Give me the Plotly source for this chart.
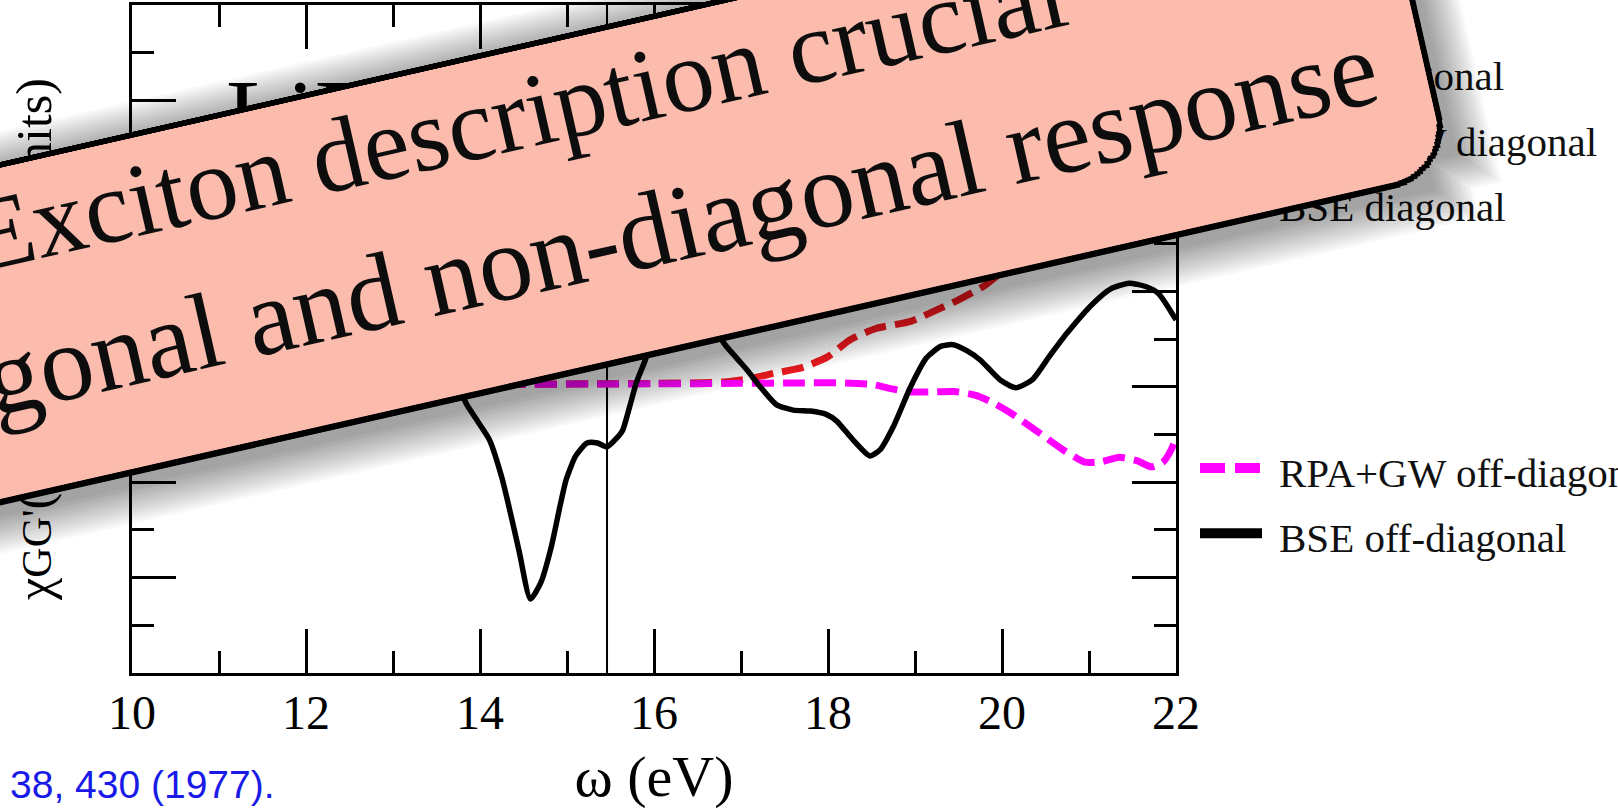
import math
import plotly.graph_objects as go

# ---------------- data ----------------
# RPA diagonal
omega_rpa_diag = [10.0, 11.0, 12.0, 13.0, 13.5, 14.0, 14.5, 15.0, 15.5, 16.0, 17.0, 18.0, 19.0, 20.0, 21.0, 22.0]
chi_rpa_diag = [6.04, 6.05, 6.08, 6.20, 6.35, 6.70, 7.30, 7.90, 8.60, 9.20, 10.10, 10.60, 10.90, 11.20, 11.50, 11.80]

# RPA+GW diagonal
omega_rpagw_diag = [10.0, 12.0, 14.0, 16.0, 16.8, 17.1, 17.4, 17.7, 18.0, 18.25, 18.55, 18.95, 19.25, 19.5, 19.8,
                    20.1, 20.5, 21.0, 21.5, 22.0]
chi_rpagw_diag = [6.04, 6.04, 6.05, 6.07, 6.10, 6.17, 6.29, 6.40, 6.63, 6.98, 7.22, 7.37, 7.61, 7.82, 8.12,
                  8.55, 9.05, 9.60, 10.10, 10.50]

# BSE diagonal
omega_bse_diag = [10.0, 12.0, 13.0, 13.5, 13.8, 14.1, 14.4, 14.6, 14.8, 15.1, 15.5, 16.0, 16.5, 17.0, 18.0,
                  19.0, 20.0, 21.0, 22.0]
chi_bse_diag = [6.04, 6.05, 6.10, 6.25, 6.60, 8.00, 10.50, 11.40, 10.60, 9.20, 8.70, 9.30, 9.90, 10.20, 10.00,
                10.40, 10.80, 11.30, 11.60]

# RPA+GW off-diagonal
omega_rpagw_off = [10.0, 12.0, 14.0, 16.0, 17.0, 17.7, 18.2, 18.5, 18.75, 18.95, 19.2, 19.45, 19.7, 19.9, 20.1,
                   20.4, 20.7, 20.95, 21.15, 21.35, 21.55, 21.72, 21.85, 21.95, 22.0]
chi_rpagw_off = [6.04, 6.04, 6.05, 6.06, 6.07, 6.08, 6.08, 6.05, 5.95, 5.89, 5.89, 5.90, 5.82, 5.66, 5.45,
                 5.07, 4.68, 4.42, 4.43, 4.52, 4.45, 4.32, 4.42, 4.70, 4.95]

# BSE off-diagonal
omega_bse_off = [10.0, 12.0, 13.0, 13.5, 13.75, 13.85, 14.0, 14.11, 14.25, 14.35, 14.45, 14.58, 14.7, 14.82,
                 14.92, 14.99, 15.1, 15.23, 15.35, 15.46, 15.56, 15.64, 15.72, 15.8, 15.9, 16.05, 16.25,
                 16.45, 16.62, 16.79, 16.95, 17.07, 17.22, 17.41, 17.6, 17.8, 17.98, 18.1, 18.29, 18.48,
                 18.6, 18.75, 18.95, 19.13, 19.3, 19.44, 19.6, 19.75, 19.98, 20.16, 20.35, 20.55, 20.75,
                 21.05, 21.25, 21.46, 21.65, 21.8, 22.0]
chi_bse_off = [6.04, 6.04, 6.06, 6.10, 5.95, 5.62, 5.20, 4.88, 4.10, 3.35, 2.55, 1.55, 1.90, 2.65,
               3.50, 4.05, 4.55, 4.82, 4.82, 4.74, 4.90, 5.09, 5.58, 6.10, 6.56, 7.40, 8.10,
               8.30, 7.90, 6.95, 6.60, 6.35, 6.00, 5.62, 5.51, 5.49, 5.42, 5.28, 4.88, 4.55,
               4.68, 5.16, 6.00, 6.60, 6.85, 6.88, 6.75, 6.56, 6.14, 5.98, 6.15, 6.65, 7.13,
               7.75, 8.05, 8.17, 8.10, 7.95, 7.40]

gap_energy = 15.46
x_ticks = [10, 12, 14, 16, 18, 20, 22]

# ---------------- geometry of the page ----------------
FIG_W, FIG_H = 1618, 811
PL, PR, PT, PB = 132, 1176, 5, 673          # plot-area edges in pixels
PW, PH = PR - PL, PB - PT


def to_paper(px, py):
    return (px - PL) / PW, (PB - py) / PH


SERIF = "Liberation Serif, Times New Roman, serif"
NBSP = "\u00a0"

fig = go.Figure()

# (name, x, y, colour, plot width, legend width, dash, group)
line_specs = [
    ("RPA diagonal", omega_rpa_diag, chi_rpa_diag, "#2e9a3c", 4, 9, "dot", "diag"),
    ("RPA+GW diagonal", omega_rpagw_diag, chi_rpagw_diag, "#ee1a1f", 7, 10, "dash", "diag"),
    ("BSE diagonal", omega_bse_diag, chi_bse_diag, "#1f3fbf", 5.5, 10, "solid", "diag"),
    ("RPA+GW off-diagonal", omega_rpagw_off, chi_rpagw_off, "#ff00ff", 7, 10, "dash", "off"),
    ("BSE off-diagonal", omega_bse_off, chi_bse_off, "black", 5.5, 10, "solid", "off"),
]
plot_dash = {"dash": "22px,9px", "dot": "dot", "solid": "solid"}
legend_dash = {"dash": "25px,10px", "dot": "dot", "solid": "solid"}
for name, xs, ys, color, w_plot, w_leg, dash, grp in line_specs:
    fig.add_trace(go.Scatter(x=xs, y=ys, mode="lines", name=name, legendgroup=grp, showlegend=False,
                             line=dict(shape="spline", smoothing=0.6, color=color, width=w_plot,
                                       dash=plot_dash[dash])))
    # legend key drawn with a heavier stroke than the curve itself
    fig.add_trace(go.Scatter(x=[None], y=[None], mode="lines", legendgroup=grp, showlegend=True,
                             name=NBSP + "<span style='font-size:41px'>" + name + "</span>",
                             line=dict(color=color, width=w_leg, dash=legend_dash[dash])))

# vertical marker at the gap energy
fig.add_shape(type="line", xref="x", yref="paper", x0=gap_energy, x1=gap_energy, y0=0, y1=1,
              line=dict(color="black", width=2), layer="below")

axis_common = dict(showline=True, linecolor="black", linewidth=3.3, mirror="allticks",
                   ticks="inside", ticklen=44, tickwidth=2.5, tickcolor="black",
                   showgrid=False, zeroline=False)

fig.update_xaxes(range=[10, 22], tickvals=x_ticks, ticktext=[str(v) for v in x_ticks],
                 minor=dict(ticks="inside", ticklen=22, tickwidth=2.5, tickcolor="black", dtick=1, tick0=10),
                 tickfont=dict(family=SERIF, size=48, color="black"), ticklabelstandoff=-5,
                 title=dict(text="ω (eV)", font=dict(family=SERIF, size=58, color="black"), standoff=18),
                 **axis_common)
fig.update_yaxes(range=[0, 14], dtick=2, tick0=0, showticklabels=False,
                 minor=dict(ticks="inside", ticklen=22, tickwidth=2.5, tickcolor="black", dtick=1, tick0=0),
                 title=dict(text="χ<span style='font-size:42px'>GG'</span>(q,ω) (arbitrary units)",
                            font=dict(family=SERIF, size=50, color="black"), standoff=62),
                 **axis_common)

annotations = []

# material label inside the frame
lx, ly = to_paper(224, 114)
annotations.append(dict(text="LiF", x=lx, y=ly, xref="paper", yref="paper", xanchor="left", yanchor="middle",
                        showarrow=False, font=dict(family=SERIF, size=100, color="black")))

# citation fragment at the bottom-left
cx_, cy_ = to_paper(8, 784)
annotations.append(dict(text="38, 430 (1977).", x=cx_, y=cy_, xref="paper", yref="paper", xanchor="left",
                        yanchor="middle", showarrow=False,
                        font=dict(family="Liberation Sans, Arial, sans-serif", size=39, color="#1a1ae8")))

# ---------------- tilted callout ----------------
THETA = math.radians(12.8)
COS, SIN = math.cos(THETA), math.sin(THETA)
ORIGIN = (0.0, 497.0)
angle = -math.degrees(THETA)


def local_to_px(u, v):
    return ORIGIN[0] + u * COS + v * SIN, ORIGIN[1] - u * SIN + v * COS


def tilted_box(u0, u1, v0, v1, color, du=0.0, dv=0.0):
    """Filled rectangle in the tilted frame, drawn as a rotated annotation box."""
    x, y = local_to_px((u0 + u1) / 2 + du, (v0 + v1) / 2 + dv)
    px_, py_ = to_paper(x, y)
    return dict(text=NBSP, x=px_, y=py_, xref="paper", yref="paper", xanchor="center", yanchor="middle",
                showarrow=False, textangle=angle, font=dict(size=2), width=u1 - u0, height=v1 - v0,
                borderpad=0, borderwidth=0, bgcolor=color)


U0, U1 = -700.0, 1490.0
V0, V1 = -326.0, 8.0
BORDER = 6.0
RADIUS = 60.0
N_ARC = 24
HALF_R = RADIUS * 0.5

# soft drop shadow from stacked translucent boxes
for k in range(13, 0, -1):
    g = 3.0 * k
    annotations.append(tilted_box(U0 - g, U1 + g, V0 - g, V1 + g - HALF_R, "rgba(0,0,0,0.032)", 5, 8))
    annotations.append(tilted_box(U0 - g, U1 + g - HALF_R, V1 + g - HALF_R, V1 + g,
                                  "rgba(0,0,0,0.032)", 5, 8))


def rounded_stack(inset, color):
    # union of rectangles whose outer corners follow a quarter circle -> rounded lower-right corner
    boxes = []
    r = RADIUS - inset
    cu, cv = U1 - RADIUS, V1 - RADIUS
    for i in range(N_ARC + 1):
        phi = math.pi / 2 * i / N_ARC
        ue = cu + r * math.cos(phi)
        ve = cv + r * math.sin(phi)
        boxes.append(tilted_box(U0 + inset, ue, V0 + inset, ve, color))
    return boxes


annotations += rounded_stack(0.0, "black")
annotations += rounded_stack(BORDER, "#fbbcae")

callout_lines = [
    ("Exciton description crucial", 104, 590.0, -224.0),
    ("for diagonal and non-diagonal response", 108, 582.0, -80.0),
]
for text, size, u_mid, v_base in callout_lines:
    tx, ty = local_to_px(u_mid, v_base - 0.3375 * size)
    px_, py_ = to_paper(tx, ty)
    annotations.append(dict(text=text, x=px_, y=py_, xref="paper", yref="paper", xanchor="center",
                            yanchor="middle", showarrow=False, textangle=angle, borderpad=0,
                            font=dict(family=SERIF, size=size, color="#0d0d0d")))

lgx, lgy = to_paper(1195, 34)
fig.update_layout(
    width=FIG_W, height=FIG_H,
    margin=dict(l=PL, r=FIG_W - PR, t=PT, b=FIG_H - PB, autoexpand=False),
    paper_bgcolor="white", plot_bgcolor="white",
    showlegend=True,
    legend=dict(x=lgx, y=lgy, xanchor="left", yanchor="top", bgcolor="rgba(0,0,0,0)",
                font=dict(family=SERIF, size=48, color="#111111"), traceorder="grouped",
                tracegroupgap=200, itemwidth=62),
    annotations=annotations,
)

fig.write_html("out.html")
